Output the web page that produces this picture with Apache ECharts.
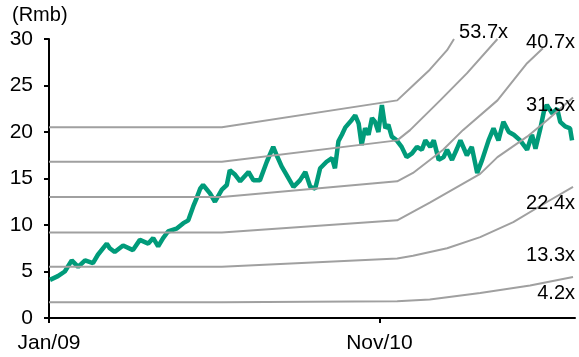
<!DOCTYPE html>
<html>
<head>
<meta charset="utf-8">
<script src="https://cdn.jsdelivr.net/npm/echarts@6/dist/echarts.min.js"></script>
<style>
  html, body { margin: 0; padding: 0; background: #fff; }
  #chart { width: 579px; height: 357px; }
</style>
</head>
<body>
<div id="chart"></div>
<script>
  // share price (Rmb)
  var price = [
    ['2009-01-03', 4.1], ['2009-01-19', 4.5], ['2009-02-02', 5.0], ['2009-02-16', 6.2],
    ['2009-03-01', 5.5], ['2009-03-15', 6.2], ['2009-03-31', 5.9], ['2009-04-10', 6.8],
    ['2009-04-28', 8.0], ['2009-05-04', 7.5], ['2009-05-14', 7.1], ['2009-05-31', 7.8],
    ['2009-06-20', 7.3], ['2009-07-04', 8.4], ['2009-07-21', 8.0], ['2009-07-31', 8.6],
    ['2009-08-10', 7.7], ['2009-08-20', 8.6], ['2009-08-30', 9.3], ['2009-09-16', 9.6],
    ['2009-09-30', 10.2], ['2009-10-10', 10.5], ['2009-10-20', 12.0], ['2009-10-27', 12.9],
    ['2009-11-03', 13.9], ['2009-11-09', 14.3], ['2009-11-13', 14.1], ['2009-11-23', 13.4],
    ['2009-12-03', 12.5], ['2009-12-17', 13.8], ['2009-12-27', 14.3], ['2010-01-02', 15.9],
    ['2010-01-13', 15.4], ['2010-01-23', 14.7], ['2010-02-09', 15.7], ['2010-02-19', 14.8],
    ['2010-03-04', 14.8], ['2010-03-18', 16.8], ['2010-03-31', 18.4], ['2010-04-07', 17.5],
    ['2010-04-17', 16.3], ['2010-04-27', 15.4], ['2010-05-11', 14.1], ['2010-05-24', 14.8],
    ['2010-06-04', 15.7], ['2010-06-14', 14.1], ['2010-06-24', 13.9], ['2010-07-04', 16.1],
    ['2010-07-17', 16.8], ['2010-07-28', 17.2], ['2010-08-03', 16.1], ['2010-08-10', 19.0],
    ['2010-08-17', 19.7], ['2010-08-24', 20.5], ['2010-09-06', 21.3], ['2010-09-13', 21.8],
    ['2010-09-20', 20.9], ['2010-09-26', 18.6], ['2010-10-03', 20.4], ['2010-10-10', 19.7],
    ['2010-10-17', 21.5], ['2010-10-23', 21.1], ['2010-10-30', 20.0], ['2010-11-06', 22.9],
    ['2010-11-13', 20.4], ['2010-11-19', 20.8], ['2010-11-26', 19.5], ['2010-12-06', 19.1],
    ['2010-12-16', 18.4], ['2010-12-26', 17.3], ['2011-01-06', 17.7], ['2011-01-16', 18.4],
    ['2011-01-26', 18.1], ['2011-02-02', 19.1], ['2011-02-12', 18.4], ['2011-02-19', 19.1],
    ['2011-03-01', 17.0], ['2011-03-11', 17.3], ['2011-03-18', 18.1], ['2011-03-28', 17.0],
    ['2011-04-07', 18.2], ['2011-04-14', 19.1], ['2011-04-27', 17.5], ['2011-05-07', 18.4],
    ['2011-05-18', 15.6], ['2011-05-28', 17.0], ['2011-06-10', 19.1], ['2011-06-20', 20.4],
    ['2011-06-30', 19.1], ['2011-07-10', 21.1], ['2011-07-21', 20.0], ['2011-07-31', 19.7],
    ['2011-08-13', 19.1], ['2011-08-27', 18.1], ['2011-09-06', 19.7], ['2011-09-13', 18.2],
    ['2011-09-23', 20.4], ['2011-09-30', 22.2], ['2011-10-06', 22.9], ['2011-10-17', 22.0],
    ['2011-10-27', 22.5], ['2011-11-02', 21.1], ['2011-11-12', 20.6], ['2011-11-22', 20.4],
    ['2011-11-26', 19.1]
  ];

  // PE band lines (Rmb)
  var band537 = [['2009-01-01', 20.5], ['2009-12-17', 20.5], ['2010-12-07', 23.4], ['2011-01-08', 25.0],
    ['2011-02-11', 26.7], ['2011-03-18', 28.8], ['2011-04-01', 30.0]];
  var band407 = [['2009-01-01', 16.8], ['2009-12-17', 16.8], ['2010-12-07', 19.1], ['2011-01-02', 20.2],
    ['2011-03-04', 23.4], ['2011-04-27', 26.3], ['2011-06-28', 30.0]];
  var band315 = [['2009-01-01', 13.0], ['2009-12-17', 13.0], ['2010-12-07', 14.7], ['2011-01-08', 15.6],
    ['2011-03-10', 18.1], ['2011-04-19', 20.2], ['2011-06-28', 23.4], ['2011-08-27', 27.4], ['2011-09-28', 29.0]];
  var band224 = [['2009-01-01', 9.2], ['2009-12-17', 9.2], ['2010-12-07', 10.5], ['2011-02-11', 12.4],
    ['2011-05-24', 15.5], ['2011-06-28', 17.3], ['2011-08-27', 19.5], ['2011-10-07', 21.3], ['2011-11-28', 23.7]];
  var band133 = [['2009-01-01', 5.5], ['2009-12-17', 5.5], ['2010-12-07', 6.4], ['2011-01-08', 6.7],
    ['2011-03-18', 7.5], ['2011-05-24', 8.7], ['2011-07-30', 10.3], ['2011-10-07', 12.5], ['2011-11-28', 14.1]];
  var band42 = [['2009-01-01', 1.7], ['2009-12-17', 1.7], ['2010-12-07', 1.8], ['2011-02-11', 2.0],
    ['2011-05-24', 2.7], ['2011-09-02', 3.5], ['2011-11-28', 4.4]];

  var bandNames = ['53.7x', '40.7x', '31.5x', '22.4x', '13.3x', '4.2x'];
  var xTickDates = ['2009-01-01', '2010-11-01'];
  var xTickLabels = ['Jan/09', 'Nov/10'];
  var xRange = ['2009-01-01', '2011-12-02'];

  var myChart = echarts.init(document.getElementById('chart'));
  var font = 'Liberation Sans, Arial, sans-serif';

  function ts(d) { return +new Date(d); }
  function toXY(arr) { return arr.map(function (p) { return [ts(p[0]), p[1]]; }); }
  var tickVals = xTickDates.map(ts);

  var bands = [band537, band407, band315, band224, band133, band42];
  var series = [{
    name: 'Price',
    type: 'line',
    data: toXY(price),
    showSymbol: false,
    lineStyle: { color: '#009B7A', width: 4.5 },
    z: 2
  }];
  bands.forEach(function (b, i) {
    series.push({
      name: bandNames[i],
      type: 'line',
      data: toXY(b),
      showSymbol: false,
      lineStyle: { color: '#A0A0A0', width: 2 },
      z: 3
    });
  });

  // label spots next to the band ends
  var labelPos = [[508, 32], [575, 42], [575, 105], [575, 203], [575, 255], [575, 293]];

  var option = {
    animation: false,
    grid: { left: 49, right: 4, top: 39, bottom: 39, outerBoundsMode: 'none' },
    xAxis: {
      type: 'value',
      min: ts(xRange[0]),
      max: ts(xRange[1]),
      axisLine: { lineStyle: { color: '#000', width: 2 } },
      axisTick: {
        show: true, length: 5, lineStyle: { color: '#000', width: 2 },
        customValues: tickVals
      },
      axisLabel: {
        color: '#000', fontSize: 21, fontFamily: font, margin: 15,
        customValues: tickVals,
        formatter: function (v) {
          var idx = tickVals.indexOf(v);
          return idx >= 0 ? xTickLabels[idx] : '';
        }
      },
      splitLine: { show: false }
    },
    yAxis: {
      type: 'value',
      min: 0,
      max: 30,
      interval: 5,
      axisLine: { show: true, lineStyle: { color: '#000', width: 2 } },
      axisTick: { show: true, length: 5, lineStyle: { color: '#000', width: 2 } },
      axisLabel: { color: '#000', fontSize: 21, fontFamily: font, margin: 16 },
      splitLine: { show: false }
    },
    graphic: [{
      type: 'text', left: 12, top: 5, z: 10,
      style: { text: '(Rmb)', fill: '#000', font: '20px ' + font }
    }].concat(bandNames.map(function (n, i) {
      return {
        type: 'text', z: 10,
        style: {
          text: n, x: labelPos[i][0], y: labelPos[i][1],
          align: 'right', verticalAlign: 'middle',
          fill: '#000', font: '20px ' + font
        }
      };
    })),
    series: series
  };
  myChart.setOption(option);
</script>
</body>
</html>
